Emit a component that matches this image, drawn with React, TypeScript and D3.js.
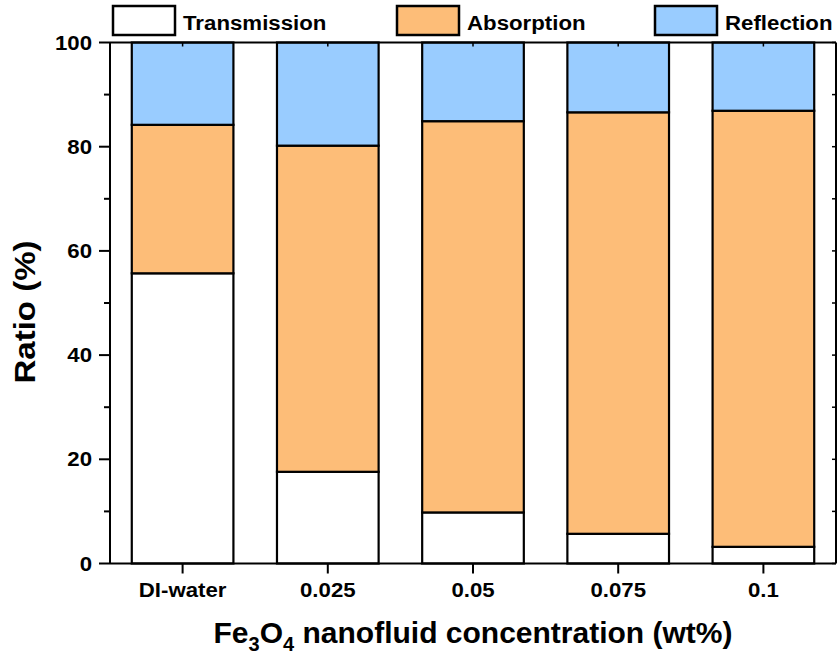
import React from "react";
import * as d3 from "d3";

// Optical energy split for Fe3O4 nanofluids (stacked to 100%)
const categories = ["DI-water", "0.025", "0.05", "0.075", "0.1"];
const transmission = [55.7, 17.6, 9.8, 5.7, 3.2];
const absorption = [28.5, 62.6, 75.1, 80.9, 83.7];
const reflection = [15.8, 19.8, 15.1, 13.4, 13.1];
const seriesNames = ["Transmission", "Absorption", "Reflection"];
const seriesColors = ["#ffffff", "#fdbd78", "#99ccff"];
const yTicks = [0, 20, 40, 60, 80, 100];
const yMinorTicks = [10, 30, 50, 70, 90];

const W = 838;
const H = 655;
const M = { left: 110, right: 2, top: 42.5, bottom: 91.5 };
const FONT = "'Liberation Sans', Arial, sans-serif";

// Text drawn with a slight horizontal stretch, as in the figure's typeface
function WideText({
  x,
  y,
  sx = 1.1,
  rotate = 0,
  anchor = "start",
  size,
  dy,
  children,
}: {
  x: number;
  y: number;
  sx?: number;
  rotate?: number;
  anchor?: string;
  size: number;
  dy?: string;
  children: React.ReactNode;
}) {
  return (
    <text
      transform={`translate(${x},${y}) rotate(${rotate}) scale(${sx},1)`}
      textAnchor={anchor as any}
      fontSize={size}
      dy={dy}
    >
      {children}
    </text>
  );
}

export default function App() {
  const x = d3
    .scaleBand<string>()
    .domain(categories)
    .range([M.left, W - M.right])
    .paddingInner(0.3)
    .paddingOuter(0.15);
  const y = d3.scaleLinear().domain([0, 100]).range([H - M.bottom, M.top]);

  const rows = categories.map((c, i) => ({
    cat: c,
    Transmission: transmission[i],
    Absorption: absorption[i],
    Reflection: reflection[i],
  }));
  const stacked = d3.stack<any>().keys(seriesNames)(rows);

  const x0 = M.left;
  const x1 = W - M.right;
  const y0 = y(0);
  const yTop = y(100);

  return (
    <svg
      width={W}
      height={H}
      style={{ position: "absolute", left: 0, top: 0, background: "#fff" }}
      fontFamily={FONT}
      fontWeight="bold"
    >
      {/* stacked bars */}
      {stacked.map((layer, si) =>
        layer.map((d, i) => (
          <rect
            key={`${si}-${i}`}
            x={x(categories[i])!}
            y={y(d[1])}
            width={x.bandwidth()}
            height={y(d[0]) - y(d[1])}
            fill={seriesColors[si]}
            stroke="#000"
            strokeWidth={2.2}
          />
        ))
      )}

      {/* frame */}
      <line x1={x0} x2={x0} y1={yTop} y2={y0} stroke="#000" strokeWidth={2} />
      <line x1={x0} x2={x1} y1={y0} y2={y0} stroke="#000" strokeWidth={2} />
      <line x1={x0} x2={x1} y1={yTop} y2={yTop} stroke="#000" strokeWidth={2} />
      <line x1={x1} x2={x1} y1={yTop} y2={y0} stroke="#000" strokeWidth={2} />

      {/* left axis ticks and labels */}
      {yTicks.map((t) => (
        <g key={`yt${t}`}>
          <line x1={x0 - 11} x2={x0} y1={y(t)} y2={y(t)} stroke="#000" strokeWidth={2} />
          <line x1={x1 - 4} x2={x1} y1={y(t)} y2={y(t)} stroke="#000" strokeWidth={1.5} />
          <WideText x={x0 - 18} y={y(t)} dy="0.36em" anchor="end" size={19.5} sx={1.14}>
            {t}
          </WideText>
        </g>
      ))}
      {yMinorTicks.map((t) => (
        <g key={`ym${t}`}>
          <line x1={x0 - 6} x2={x0} y1={y(t)} y2={y(t)} stroke="#000" strokeWidth={2} />
          <line x1={x1 - 4} x2={x1} y1={y(t)} y2={y(t)} stroke="#000" strokeWidth={1.5} />
        </g>
      ))}

      {/* bottom axis ticks and labels */}
      {categories.map((c) => {
        const cx = x(c)! + x.bandwidth() / 2;
        return (
          <g key={`xt${c}`}>
            <line x1={cx} x2={cx} y1={y0} y2={y0 + 10} stroke="#000" strokeWidth={2} />
            <line x1={cx} x2={cx} y1={yTop} y2={yTop + 4} stroke="#000" strokeWidth={1.5} />
            <WideText x={cx} y={597} anchor="middle" size={19.5} sx={1.14}>
              {c}
            </WideText>
          </g>
        );
      })}

      {/* axis titles */}
      <WideText x={35} y={(yTop + y0) / 2 + 9} rotate={-90} anchor="middle" size={30} sx={1.1}>
        Ratio (%)
      </WideText>
      <WideText x={(x0 + x1) / 2} y={643} anchor="middle" size={30} sx={1.0}>
        Fe
        <tspan fontSize={20} dy={8}>3</tspan>
        <tspan dy={-8}>O</tspan>
        <tspan fontSize={20} dy={8}>4</tspan>
        <tspan dy={-8}> nanofluid concentration (wt%)</tspan>
      </WideText>

      {/* legend */}
      {seriesNames.map((name, i) => {
        const lx = [113, 397, 655][i];
        return (
          <g key={`lg${name}`}>
            <rect
              x={lx}
              y={6}
              width={62}
              height={29}
              fill={seriesColors[i]}
              stroke="#000"
              strokeWidth={2.5}
            />
            <WideText x={lx + 70} y={30} size={21} sx={1.06}>
              {name}
            </WideText>
          </g>
        );
      })}
    </svg>
  );
}
